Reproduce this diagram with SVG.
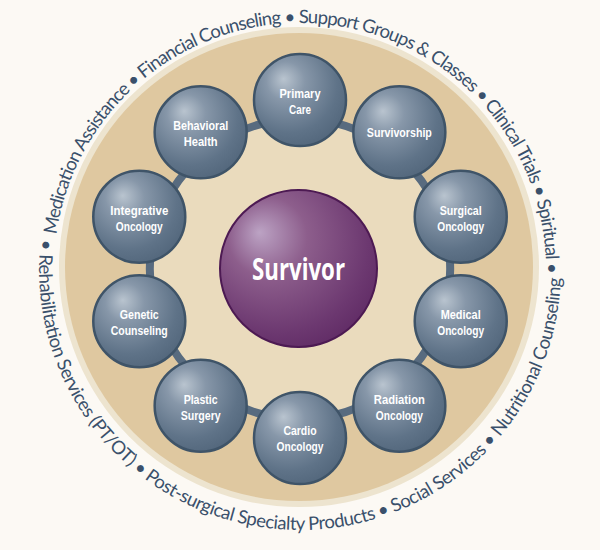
<svg xmlns="http://www.w3.org/2000/svg" width="600" height="550" viewBox="0 0 600 550">
<defs>
  <radialGradient id="gNode" cx="0.4" cy="0.35" r="0.7" fx="0.32" fy="0.27">
    <stop offset="0" stop-color="#b9c4cf"/>
    <stop offset="0.3" stop-color="#8797a9"/>
    <stop offset="0.75" stop-color="#5f7388"/>
    <stop offset="1" stop-color="#52667b"/>
  </radialGradient>
  <radialGradient id="gSurv" cx="0.4" cy="0.35" r="0.72" fx="0.25" fy="0.27">
    <stop offset="0" stop-color="#bca3c4"/>
    <stop offset="0.35" stop-color="#8d5e8c"/>
    <stop offset="0.8" stop-color="#6c3870"/>
    <stop offset="1" stop-color="#5f2a64"/>
  </radialGradient>
  <path id="arcTop" d="M 56.39 234.76 A 246 246 0 1 1 542.26 311.72"/>
  <path id="arcBot" d="M 40.68 239.45 A 261 261 0 1 0 558.46 232.68"/>
</defs>
<style>
  .ring{font-family:Lato,"Open Sans",sans-serif;font-size:18.5px;fill:#3a506b}
  .lbl{font-family:"Liberation Sans",Arial,sans-serif;font-weight:700;font-size:13px;fill:#ffffff;text-anchor:middle}
  .node circle{fill:url(#gNode);stroke:#3f5468;stroke-width:2.5}
  .conn{fill:none;stroke:#586b7f;stroke-width:8}
</style>
<rect x="0" y="0" width="600" height="550" fill="#fcf9f4"/>
<circle cx="299" cy="267" r="240" fill="#ede4cf"/>
<circle cx="299" cy="267" r="234" fill="#dfc8a0"/>
<circle cx="300" cy="269" r="150" fill="#eadbbd"/>

<text class="ring"><textPath href="#arcTop" textLength="742.8" lengthAdjust="spacing">Medication Assistance • Financial Counseling • Support Groups &amp; Classes • Clinical Trials • Spiritual •</textPath></text>
<text class="ring"><textPath href="#arcBot" textLength="840.4" lengthAdjust="spacing">• Rehabilitation Services (PT/OT) • Post-surgical Specialty Products • Social Services • Nutritional Counseling</textPath></text>

<g id="connectors">
  <path class="conn" d="M 300 119 A 150 150 0 0 1 388.17 147.65"/>
  <path class="conn" d="M 388.17 147.65 A 150 150 0 0 1 442.66 222.65"/>
  <path class="conn" d="M 442.66 222.65 A 150 150 0 0 1 442.66 315.35"/>
  <path class="conn" d="M 442.66 315.35 A 150 150 0 0 1 388.17 390.35"/>
  <path class="conn" d="M 388.17 390.35 A 150 150 0 0 1 300 419"/>
  <path class="conn" d="M 300 419 A 150 150 0 0 1 211.83 390.35"/>
  <path class="conn" d="M 211.83 390.35 A 150 150 0 0 1 157.34 315.35"/>
  <path class="conn" d="M 157.34 315.35 A 150 150 0 0 1 157.34 222.65"/>
  <path class="conn" d="M 157.34 222.65 A 150 150 0 0 1 211.83 147.65"/>
  <path class="conn" d="M 211.83 147.65 A 150 150 0 0 1 300 119"/>
</g>

<g id="survivor">
  <circle cx="298.5" cy="268.5" r="78.5" fill="url(#gSurv)" stroke="#4d1a53" stroke-width="2"/>
  <text x="298.5" y="280" font-family="'Open Sans',sans-serif" font-weight="700" font-size="30" fill="#ffffff" text-anchor="middle" textLength="93" lengthAdjust="spacingAndGlyphs">Survivor</text>
</g>

<g id="primary-care" class="node">
  <circle cx="300" cy="100" r="46"/>
  <text class="lbl" x="300" y="98" textLength="41" lengthAdjust="spacingAndGlyphs">Primary</text>
  <text class="lbl" x="300" y="114" textLength="22" lengthAdjust="spacingAndGlyphs">Care</text>
</g>
<g id="survivorship" class="node">
  <circle cx="399.34" cy="132.28" r="46"/>
  <text class="lbl" x="399.34" y="137" textLength="65" lengthAdjust="spacingAndGlyphs">Survivorship</text>
</g>
<g id="surgical-oncology" class="node">
  <circle cx="460.73" cy="216.78" r="46"/>
  <text class="lbl" x="460.73" y="214.8" textLength="42" lengthAdjust="spacingAndGlyphs">Surgical</text>
  <text class="lbl" x="460.73" y="230.8" textLength="47" lengthAdjust="spacingAndGlyphs">Oncology</text>
</g>
<g id="medical-oncology" class="node">
  <circle cx="460.73" cy="321.22" r="46"/>
  <text class="lbl" x="460.73" y="319.2" textLength="40" lengthAdjust="spacingAndGlyphs">Medical</text>
  <text class="lbl" x="460.73" y="335.2" textLength="47" lengthAdjust="spacingAndGlyphs">Oncology</text>
</g>
<g id="radiation-oncology" class="node">
  <circle cx="399.34" cy="405.72" r="46"/>
  <text class="lbl" x="399.34" y="403.7" textLength="51" lengthAdjust="spacingAndGlyphs">Radiation</text>
  <text class="lbl" x="399.34" y="419.7" textLength="47" lengthAdjust="spacingAndGlyphs">Oncology</text>
</g>
<g id="cardio-oncology" class="node">
  <circle cx="300" cy="438" r="46"/>
  <text class="lbl" x="300" y="435" textLength="33" lengthAdjust="spacingAndGlyphs">Cardio</text>
  <text class="lbl" x="300" y="451" textLength="47" lengthAdjust="spacingAndGlyphs">Oncology</text>
</g>
<g id="plastic-surgery" class="node">
  <circle cx="200.66" cy="405.72" r="46"/>
  <text class="lbl" x="200.66" y="403.7" textLength="34" lengthAdjust="spacingAndGlyphs">Plastic</text>
  <text class="lbl" x="200.66" y="419.7" textLength="40" lengthAdjust="spacingAndGlyphs">Surgery</text>
</g>
<g id="genetic-counseling" class="node">
  <circle cx="139.27" cy="321.22" r="46"/>
  <text class="lbl" x="139.27" y="319.2" textLength="39" lengthAdjust="spacingAndGlyphs">Genetic</text>
  <text class="lbl" x="139.27" y="335.2" textLength="57" lengthAdjust="spacingAndGlyphs">Counseling</text>
</g>
<g id="integrative-oncology" class="node">
  <circle cx="139.27" cy="216.78" r="46"/>
  <text class="lbl" x="139.27" y="214.8" textLength="58" lengthAdjust="spacingAndGlyphs">Integrative</text>
  <text class="lbl" x="139.27" y="230.8" textLength="47" lengthAdjust="spacingAndGlyphs">Oncology</text>
</g>
<g id="behavioral-health" class="node">
  <circle cx="200.66" cy="132.28" r="46"/>
  <text class="lbl" x="200.66" y="130.3" textLength="55" lengthAdjust="spacingAndGlyphs">Behavioral</text>
  <text class="lbl" x="200.66" y="146.3" textLength="34" lengthAdjust="spacingAndGlyphs">Health</text>
</g>
</svg>
